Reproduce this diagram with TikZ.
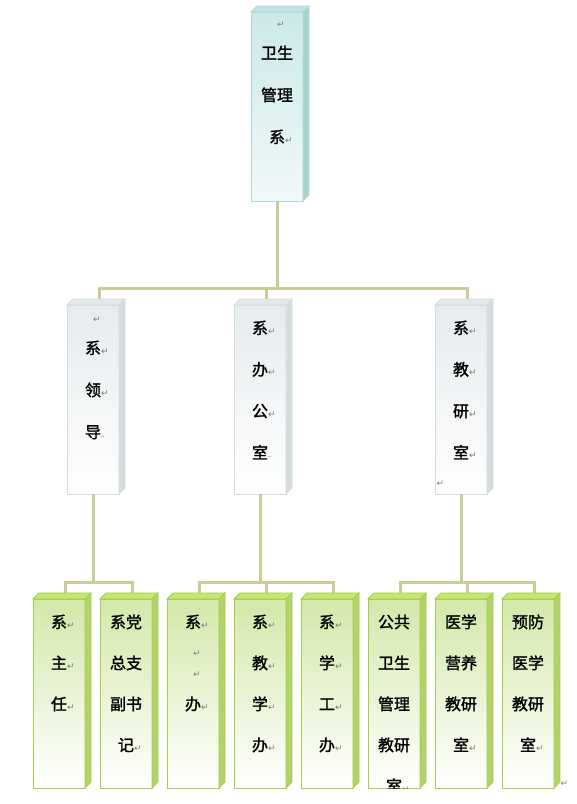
\documentclass[tikz,border=0pt]{standalone}
\usepackage{fontspec}
\newfontfamily\cjkfont[FakeBold=1.5]{Noto Sans CJK SC}
\newfontfamily\retfont{DejaVu Sans}
\usetikzlibrary{positioning}

\definecolor{frontd}{HTML}{CDE8E8}
\definecolor{topd}{HTML}{C3E3E3}
\definecolor{sided}{HTML}{A7D3D3}
\definecolor{lined}{HTML}{B0DADA}
\definecolor{frontm}{HTML}{E6EBED}
\definecolor{topm}{HTML}{E2E8EA}
\definecolor{sidem}{HTML}{D5DDDF}
\definecolor{linem}{HTML}{D3DCDF}
\definecolor{frontg}{HTML}{D3E8A9}
\definecolor{topg}{HTML}{C6E67A}
\definecolor{sideg}{HTML}{B3D36A}
\definecolor{lineg}{HTML}{A3D048}
\definecolor{linkc}{HTML}{CBCB98}
\definecolor{retgray}{HTML}{7A7A7A}

\newcommand\ret{\rlap{\retfont\fontsize{9}{9}\selectfont\textcolor{retgray}{↵}}}
\newcommand\dotret{\rlap{\retfont\fontsize{4}{4}\selectfont\textcolor{retgray}{↵}}}

\begin{document}
\begin{tikzpicture}[
	unit/.style={rectangle, minimum width=52pt, minimum height=189pt, inner sep=0pt, outer sep=0pt, line width=0.8pt},
	dept/.style={unit, draw=lined, top color=frontd, bottom color=white!70!frontd},
	mid/.style={unit, draw=linem, top color=frontm, bottom color=white},
	low/.style={unit, draw=lineg, top color=frontg, bottom color=white},
	txt/.style={anchor=base, inner sep=0pt, font=\cjkfont\fontsize{16}{16}\selectfont},
	link/.style={draw=linkc, line width=3pt}
	]
	\useasboundingbox (0pt,0pt) rectangle (577pt,-804pt);

		\node (dept) [dept] at (277pt,-106.5pt) {};
			\node (office) [mid, below=104pt of dept, xshift=-17pt] {};
			\node (leader) [mid, left=115pt of office] {};
			\node (research) [mid, right=149pt of office] {};
				\node (teaching) [low, below=105pt of office] {};
				\node (admin) [low, left=15pt of teaching] {};
				\node (student) [low, right=15pt of teaching] {};
				\node (party) [low, left=15pt of admin] {};
				\node (head) [low, left=15pt of party] {};
				\node (nutrition) [low, below=105pt of research] {};
				\node (pubhealth) [low, left=15pt of nutrition] {};
				\node (prevmed) [low, right=15pt of nutrition] {};

	% top and side faces
	\foreach \name/\lv in {dept/d, leader/m, office/m, research/m, head/g, party/g, admin/g, teaching/g, student/g, pubhealth/g, nutrition/g, prevmed/g} {
		\filldraw [fill=top\lv, draw=line\lv, line width=0.8pt] (\name.north west) -- ++(6pt,6pt) -- ([shift={(6pt,6pt)}]\name.north east) -- (\name.north east) -- cycle;
		\filldraw [fill=side\lv, draw=line\lv, line width=0.8pt] (\name.north east) -- ++(6pt,6pt) -- ([shift={(6pt,6pt)}]\name.south east) -- (\name.south east) -- cycle;
	}

	\draw [link] (dept.south)--++(0,-87pt)-| ([shift={(6pt,6pt)}]leader.north);
	\draw [link] (dept.south)--++(0,-87pt)-| ([shift={(6pt,6pt)}]office.north);
	\draw [link] (dept.south)--++(0,-87pt)-| ([shift={(6pt,6pt)}]research.north);

	\draw [link] (leader.south)--++(0,-88pt)-| ([shift={(6pt,6pt)}]head.north);
	\draw [link] (leader.south)--++(0,-88pt)-| ([shift={(6pt,6pt)}]party.north);

	\draw [link] (office.south)--++(0,-88pt)-| ([shift={(6pt,6pt)}]admin.north);
	\draw [link] (office.south)--++(0,-88pt)-| ([shift={(6pt,6pt)}]teaching.north);
	\draw [link] (office.south)--++(0,-88pt)-| ([shift={(6pt,6pt)}]student.north);

	\draw [link] (research.south)--++(0,-88pt)-| ([shift={(6pt,6pt)}]pubhealth.north);
	\draw [link] (research.south)--++(0,-88pt)-| ([shift={(6pt,6pt)}]nutrition.north);
	\draw [link] (research.south)--++(0,-88pt)-| ([shift={(6pt,6pt)}]prevmed.north);

	% texts
	\node (dept-0) [txt] at ([yshift=-15pt]dept.north) {\ret};
	\foreach \t [count=\i] in {卫生,管理,系\ret}
		\node (dept-\i) [txt] at ([yshift={-5pt-42pt*\i}]dept.north) {\t};

	\node (leader-0) [txt] at ([yshift=-17pt]leader.north) {\ret};
	\foreach \t [count=\i] in {系\ret,领\ret,导\dotret}
		\node (leader-\i) [txt] at ([yshift={-7pt-42pt*\i}]leader.north) {\t};
	\foreach \t [count=\i] in {系\ret,办\ret,公\ret,室\dotret}
		\node (office-\i) [txt] at ([yshift={12.5pt-41.5pt*\i}]office.north) {\t};
	\foreach \t [count=\i] in {系\ret,教\ret,研\ret,室\ret}
		\node (research-\i) [txt] at ([yshift={12.5pt-41.5pt*\i}]research.north) {\t};
	\node (research-5) [txt, anchor=base west] at ([shift={(1pt,8pt)}]research.south west) {\ret};

	\foreach \t [count=\i] in {系\ret,主\ret,任\ret}
		\node (head-\i) [txt] at ([yshift={12pt-41pt*\i}]head.north) {\t};
	\foreach \t [count=\i] in {系党,总支,副书,记\ret}
		\node (party-\i) [txt] at ([yshift={12pt-41pt*\i}]party.north) {\t};
	\node (admin-1) [txt] at ([yshift=-29pt]admin.north) {系\ret};
	\node (admin-2) [txt] at ([yshift=-57pt]admin.north) {\ret};
	\node (admin-3) [txt] at ([yshift=-78pt]admin.north) {\ret};
	\node (admin-4) [txt] at ([yshift=-111pt]admin.north) {办\ret};
	\foreach \t [count=\i] in {系\ret,教\ret,学\ret,办\ret}
		\node (teaching-\i) [txt] at ([yshift={12pt-41pt*\i}]teaching.north) {\t};
	\foreach \t [count=\i] in {系\ret,学\ret,工\ret,办\ret}
		\node (student-\i) [txt] at ([yshift={12pt-41pt*\i}]student.north) {\t};
	\begin{scope}
		\clip (pubhealth.north west) rectangle (pubhealth.south east);
		\foreach \t [count=\i] in {公共,卫生,管理,教研,室\ret}
			\node (pubhealth-\i) [txt] at ([yshift={12pt-41pt*\i}]pubhealth.north) {\t};
	\end{scope}
	\foreach \t [count=\i] in {医学,营养,教研,室\ret}
		\node (nutrition-\i) [txt] at ([yshift={12pt-41pt*\i}]nutrition.north) {\t};
	\foreach \t [count=\i] in {预防,医学,教研,室\ret}
		\node (prevmed-\i) [txt] at ([yshift={12pt-41pt*\i}]prevmed.north) {\t};
	\node (endmark) [txt, anchor=base west] at ([shift={(6pt,2pt)}]prevmed.south east) {\ret};

	\end{tikzpicture}
\end{document}
